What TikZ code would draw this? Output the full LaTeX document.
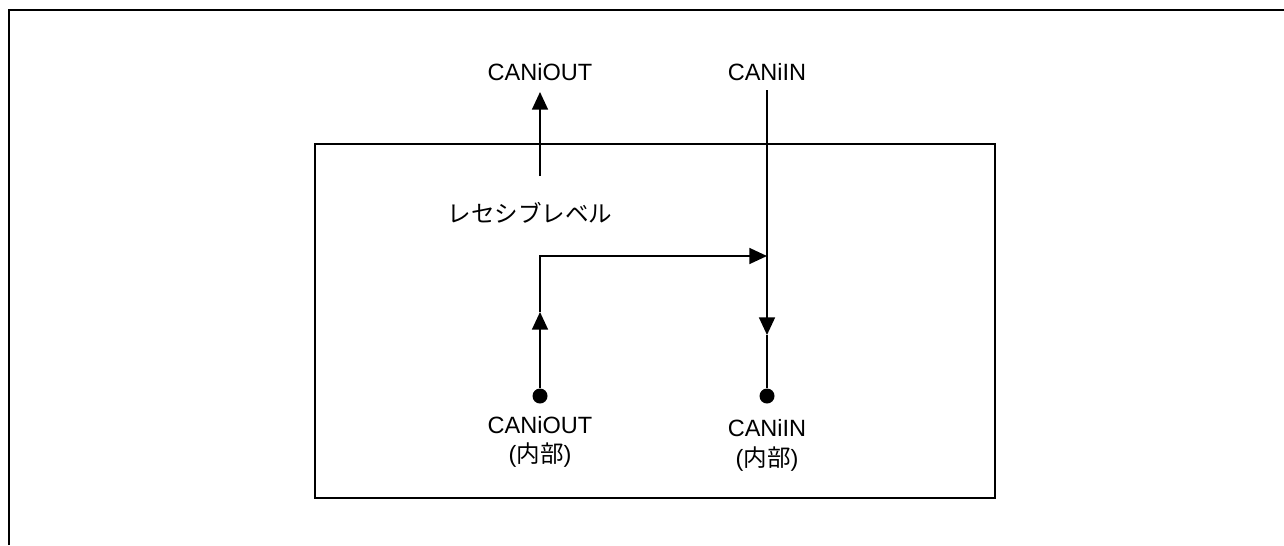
\documentclass[tikz,border=0pt]{standalone}
\usepackage{fontspec}
\setmainfont{Liberation Sans}
\newfontfamily\jpfont{Noto Sans CJK JP}
\usetikzlibrary{arrows.meta, positioning}
\newcommand{\jp}[1]{{\jpfont #1}}

\begin{document}
\begin{tikzpicture}[x=0.02cm, y=-0.02cm, line width=1.1pt,
    lbl/.style={font=\fontsize{13.4}{17}\selectfont, align=center, inner sep=0pt},
    pin/.style={circle, fill=black, inner sep=0pt, minimum size=0.3cm},
    sig/.style={-{Triangle[length=10pt, width=9pt]}}]
    \useasboundingbox (0,0) rectangle (1284,545);

    % frame and block
    \draw (9,545) -- (9,10) -- (1284,10);
    \draw (315,144) rectangle (995,498);

    % external pins
    \node[lbl] (outext) at (540,72) {CANiOUT};
    \node[lbl] (inext) at (767,72) {CANiIN};
    \coordinate (outtop) at (540,92);
    \coordinate (outlow) at (540,176);
    \coordinate (intop) at (767,90);

    \node[lbl] (rec) at (530,213) {\jp{レセシブレベル}};

    % internal pins
    \node[pin] (outdot) at (540,396) {};
    \node[pin] (indot) at (767,396) {};
    \node[lbl, below=6pt of outdot] (outint) {CANiOUT\\(\jp{内部})};
    \node[lbl, below=8pt of indot] (inint) {CANiIN\\(\jp{内部})};

    \coordinate (uptip) at (540,312);
    \coordinate (corner) at (540,256);
    \coordinate (join) at (767,256);
    \coordinate (downtip) at (767,335);

    \draw[sig] (outlow) -- (outtop);
    \draw[sig] (outdot) -- (uptip);
    \draw[sig] (uptip) -- (corner) -- (join);
    \draw[sig] (intop) -- (downtip);
    \draw (downtip) -- (indot);
\end{tikzpicture}
\end{document}
